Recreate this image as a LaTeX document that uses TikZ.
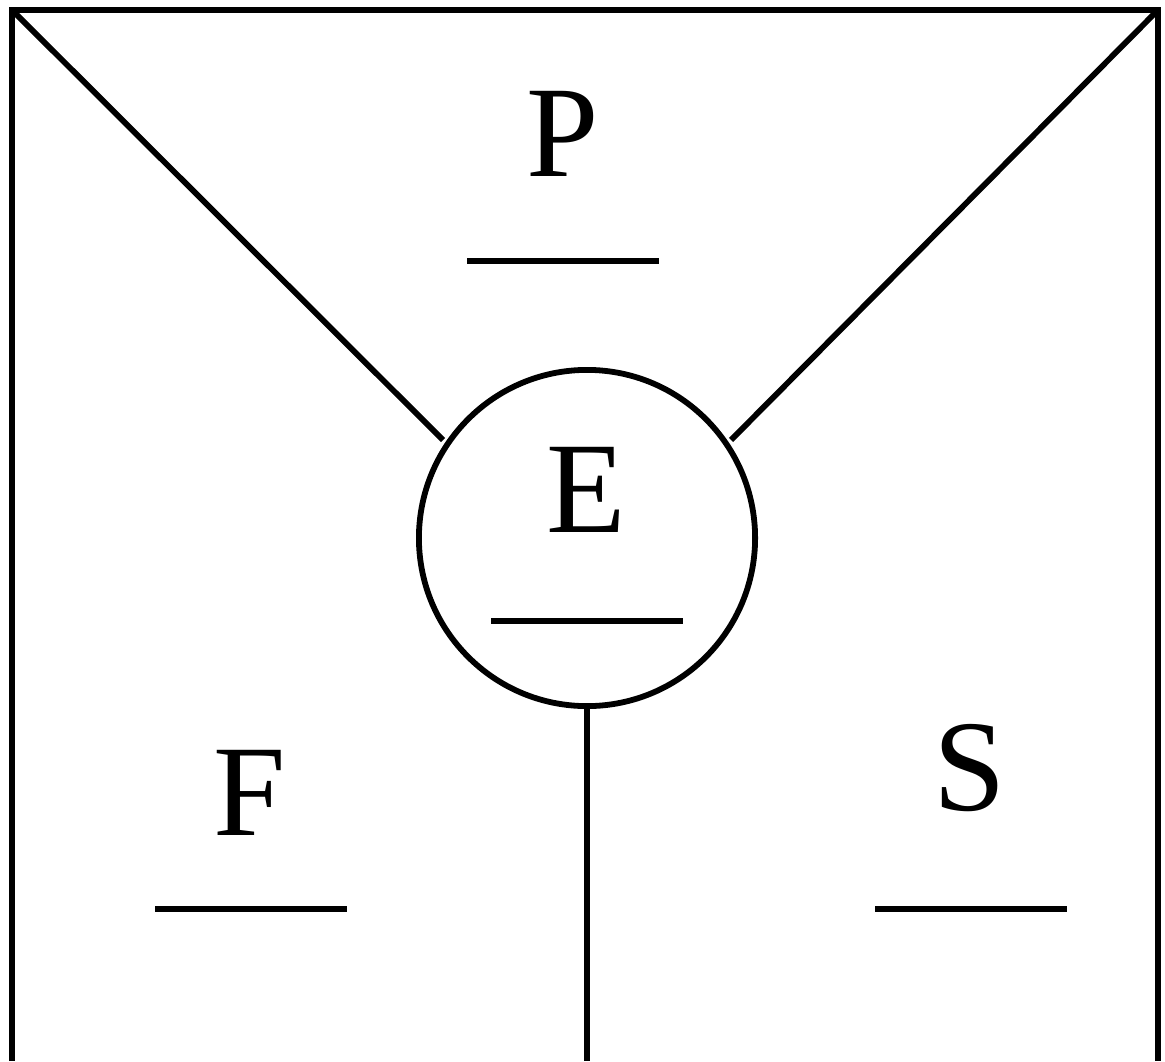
\documentclass[tikz,border=0pt]{standalone}
\usepackage{fontspec}
\setmainfont{Liberation Serif}
\usetikzlibrary{positioning}

\begin{document}
\begin{tikzpicture}[
  x=0.01cm, y=-0.01cm,
  line width=1.65pt,
  lbl/.style={inner sep=0pt, font=\fontsize{37}{40}\selectfont},
  bar/.style={line width=1.65pt},
  ring/.style={draw, circle, inner sep=0pt, minimum size=3.36cm}]
\useasboundingbox (0,0) rectangle (1165,1061);
% frame and corners
\coordinate (bl) at (12,1061);
\coordinate (tl) at (12,10);
\coordinate (tr) at (1158,10);
\coordinate (br) at (1158,1061);
\draw (bl) -- (tl) -- (tr) -- (br);
% central circle
\node[ring] (ecirc) at (587,538) {};
\coordinate (dl) at (443,440);
\coordinate (dr) at (731,440);
\coordinate (bm) at (587,1061);
\draw (tl) -- (dl);
\draw (tr) -- (dr);
\draw (ecirc.south) -- (bm);
% labels
\node[lbl] (P) at (563,134) {P};
\node[lbl] (E) at (586,490) {E};
\node[lbl] (F) at (250,793) {F};
\node[lbl] (S) at (970,768) {S};
\draw[bar] (467,261) -- (659,261);
\draw[bar] (491,621) -- (683,621);
\draw[bar] (155,909) -- (347,909);
\draw[bar] (875,909) -- (1067,909);
\end{tikzpicture}
\end{document}
